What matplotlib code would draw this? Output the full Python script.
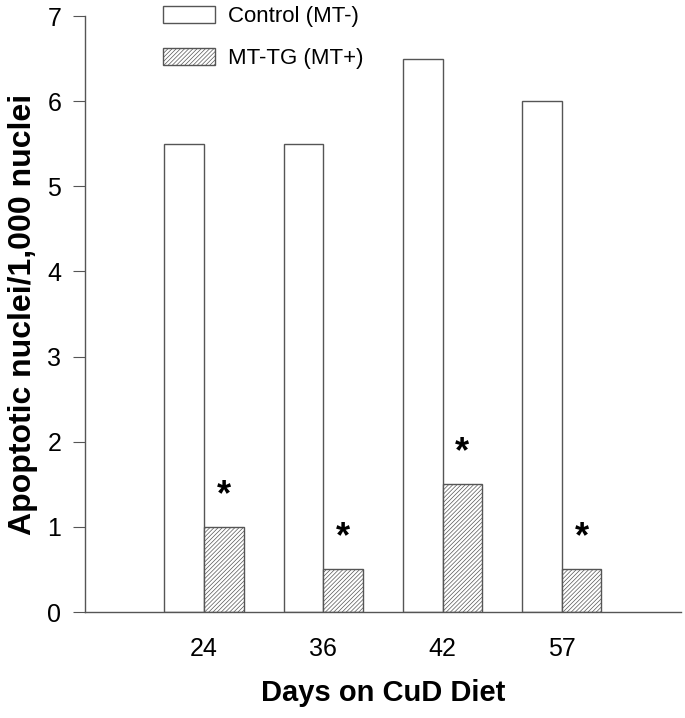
import matplotlib
matplotlib.use("Agg")
import matplotlib.pyplot as plt
import numpy as np
from matplotlib.patches import Patch

plt.rcParams['font.family'] = ['Liberation Sans', 'DejaVu Sans']
plt.rcParams['hatch.linewidth'] = 0.5

days = ["24", "36", "42", "57"]
control = [5.5, 5.5, 6.5, 6.0]
mt_tg = [1.0, 0.5, 1.5, 0.5]
star_offset = 0.37

fig = plt.figure(figsize=(6.85, 7.18), dpi=100)
ax = fig.add_axes([0.124, 0.1476, 0.870, 0.8301])

x = np.arange(len(days))
w = 1 / 3
ax.bar(x - w / 2, control, w, color="white", edgecolor="#555555", linewidth=1)
ax.bar(x + w / 2, mt_tg, w, color="white", edgecolor="#555555", linewidth=1,
       hatch="////////")
for xi, v in zip(x, mt_tg):
    ax.text(xi + w / 2, v + star_offset, "*", ha="center", va="center",
            fontsize=26, fontweight="bold")

ax.set_xlim(-1, 4)
ax.set_ylim(0, 7)
ax.set_xticks(x)
ax.set_xticklabels(days)
ax.set_yticks(range(8))
ax.tick_params(axis="x", length=0, pad=18, labelsize=18)
ax.tick_params(axis="y", length=9, width=0.8, pad=8, labelsize=18,
               color="#555555")
for s in ["top", "right"]:
    ax.spines[s].set_visible(False)
for s in ["left", "bottom"]:
    ax.spines[s].set_color("#555555")
    ax.spines[s].set_linewidth(1)

ax.set_xlabel("Days on CuD Diet", fontsize=21, fontweight="bold", labelpad=13)
ax.set_ylabel("Apoptotic nuclei/1,000 nuclei", fontsize=23, fontweight="bold",
              labelpad=7)

handles = [Patch(facecolor="white", edgecolor="#555555", linewidth=1),
           Patch(facecolor="white", edgecolor="#555555", linewidth=1,
                 hatch="////////")]
fig.legend(handles, ["Control (MT-)", "MT-TG (MT+)"], loc="upper left",
           bbox_to_anchor=(163 / 685, 1 - 6 / 718), frameon=False,
           fontsize=16, handlelength=2.35, handleheight=0.77,
           handletextpad=0.58, labelspacing=0.95, borderpad=0,
           borderaxespad=0)

fig.savefig("out.png", dpi=100)
